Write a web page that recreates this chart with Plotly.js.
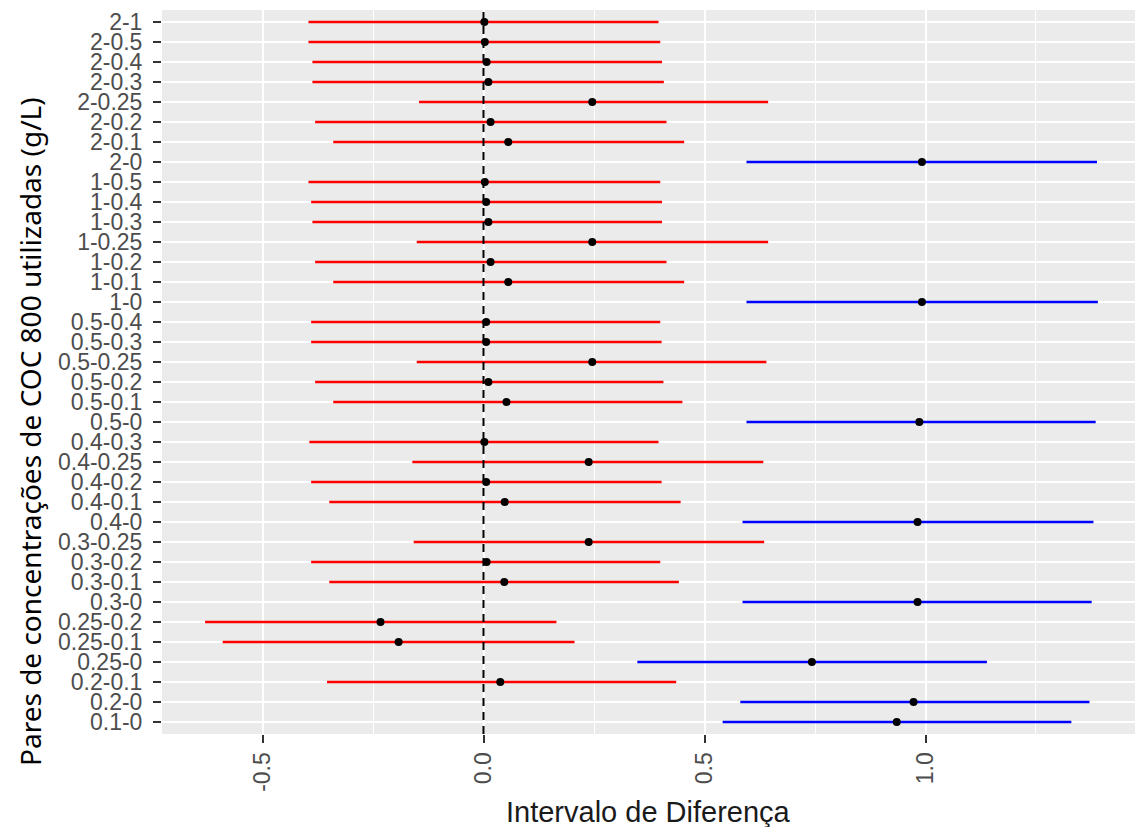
<!DOCTYPE html>
<html>
<head>
<meta charset="utf-8">
<script src="https://cdn.plot.ly/plotly-3.0.1.min.js"></script>
<style>html,body{margin:0;padding:0;background:#fff;}#chart{width:1135px;height:827px;}</style>
</head>
<body>
<div id="chart"></div>
<script>
const labels = ["2-1","2-0.5","2-0.4","2-0.3","2-0.25","2-0.2","2-0.1","2-0",
  "1-0.5","1-0.4","1-0.3","1-0.25","1-0.2","1-0.1","1-0",
  "0.5-0.4","0.5-0.3","0.5-0.25","0.5-0.2","0.5-0.1","0.5-0",
  "0.4-0.3","0.4-0.25","0.4-0.2","0.4-0.1","0.4-0",
  "0.3-0.25","0.3-0.2","0.3-0.1","0.3-0",
  "0.25-0.2","0.25-0.1","0.25-0",
  "0.2-0.1","0.2-0","0.1-0"];
const diff = [0.002,0.003,0.007,0.011,0.246,0.016,0.056,0.992,
  0.003,0.006,0.011,0.246,0.016,0.056,0.992,
  0.006,0.006,0.246,0.011,0.052,0.986,
  0.002,0.238,0.006,0.048,0.982,
  0.238,0.007,0.047,0.982,
  -0.233,-0.192,0.743,
  0.038,0.973,0.935];
const lower = [-0.396,-0.396,-0.387,-0.387,-0.146,-0.381,-0.340,0.595,
  -0.396,-0.390,-0.387,-0.151,-0.381,-0.340,0.595,
  -0.390,-0.390,-0.151,-0.381,-0.340,0.595,
  -0.394,-0.161,-0.390,-0.349,0.586,
  -0.158,-0.390,-0.349,0.586,
  -0.630,-0.590,0.348,
  -0.354,0.581,0.541];
const upper = [0.396,0.400,0.404,0.408,0.644,0.414,0.454,1.388,
  0.400,0.404,0.404,0.644,0.414,0.454,1.390,
  0.400,0.403,0.640,0.407,0.450,1.385,
  0.396,0.633,0.403,0.446,1.380,
  0.635,0.400,0.442,1.376,
  0.165,0.206,1.139,
  0.436,1.371,1.330];
const xTicks = [-0.5, 0.0, 0.5, 1.0];
const xTickText = ["-0.5","0.0","0.5","1.0"];

function group(sig) {
  const g = {y:[], x:[], plus:[], minus:[]};
  labels.forEach((l,i) => {
    const s = lower[i] > 0 || upper[i] < 0;
    if (s === sig) {
      g.y.push(l); g.x.push(diff[i]);
      g.plus.push(upper[i]-diff[i]); g.minus.push(diff[i]-lower[i]);
    }
  });
  return g;
}
function trace(g, color) {
  return {
    type:'scatter', mode:'markers', x:g.x, y:g.y,
    marker:{color:'#000000', size:8},
    error_x:{type:'data', symmetric:false, array:g.plus, arrayminus:g.minus,
      color:color, thickness:2.5, width:0},
    hoverinfo:'x+y', showlegend:false
  };
}
const red = group(false), blue = group(true);
const data = [trace(red,'#FF0000'), trace(blue,'#0000FF')];

const tickFont = {family:'"Liberation Sans", Arial, sans-serif', size:23, color:'#4D4D4D'};
const layout = {
  width:1135, height:827,
  margin:{l:162, r:0, t:10, b:93},
  paper_bgcolor:'#FFFFFF', plot_bgcolor:'#EBEBEB',
  xaxis:{
    range:[-0.7274, 1.474], tickmode:'array', tickvals:xTicks, ticktext:xTickText,
    tickangle:-90, tickfont:tickFont,
    showgrid:true, gridcolor:'#FFFFFF', gridwidth:2,
    minor:{dtick:0.25, tick0:0, showgrid:true, gridcolor:'#FFFFFF', gridwidth:1},
    ticks:'outside', ticklen:8, tickwidth:2, tickcolor:'#333333',
    zeroline:false, showline:false
  },
  yaxis:{
    type:'category', categoryorder:'array', categoryarray:labels,
    tickmode:'array', tickvals:labels, ticktext:labels,
    range:[35.6, -0.6], tickfont:tickFont,
    showgrid:true, gridcolor:'#FFFFFF', gridwidth:2,
    ticks:'outside', ticklen:8, tickwidth:2, tickcolor:'#333333',
    ticklabelstandoff:6,
    zeroline:false, showline:false
  },
  shapes:[{type:'line', xref:'x', yref:'paper', x0:0, x1:0, y0:0, y1:1,
    layer:'above', line:{color:'#000000', width:2, dash:'8px,6px'}}],
  annotations:[
    {text:'Intervalo de Diferença', xref:'paper', yref:'paper', x:0.5, y:0,
      yshift:-78, xanchor:'center', yanchor:'middle', showarrow:false,
      font:{family:'"Liberation Sans", Arial, sans-serif', size:29, color:'#1A1A1A'}},
    {text:'Pares de concentrações de COC 800 utilizadas (g/L)', xref:'paper', yref:'paper',
      x:0, xshift:-132, y:(734-432)/724, yanchor:'middle', xanchor:'center',
      textangle:-90, showarrow:false,
      font:{family:'"Noto Sans", "Open Sans", sans-serif', size:28, color:'#000000'}}
  ]
};
Plotly.newPlot('chart', data, layout, {displayModeBar:false, staticPlot:true});
</script>
</body>
</html>
